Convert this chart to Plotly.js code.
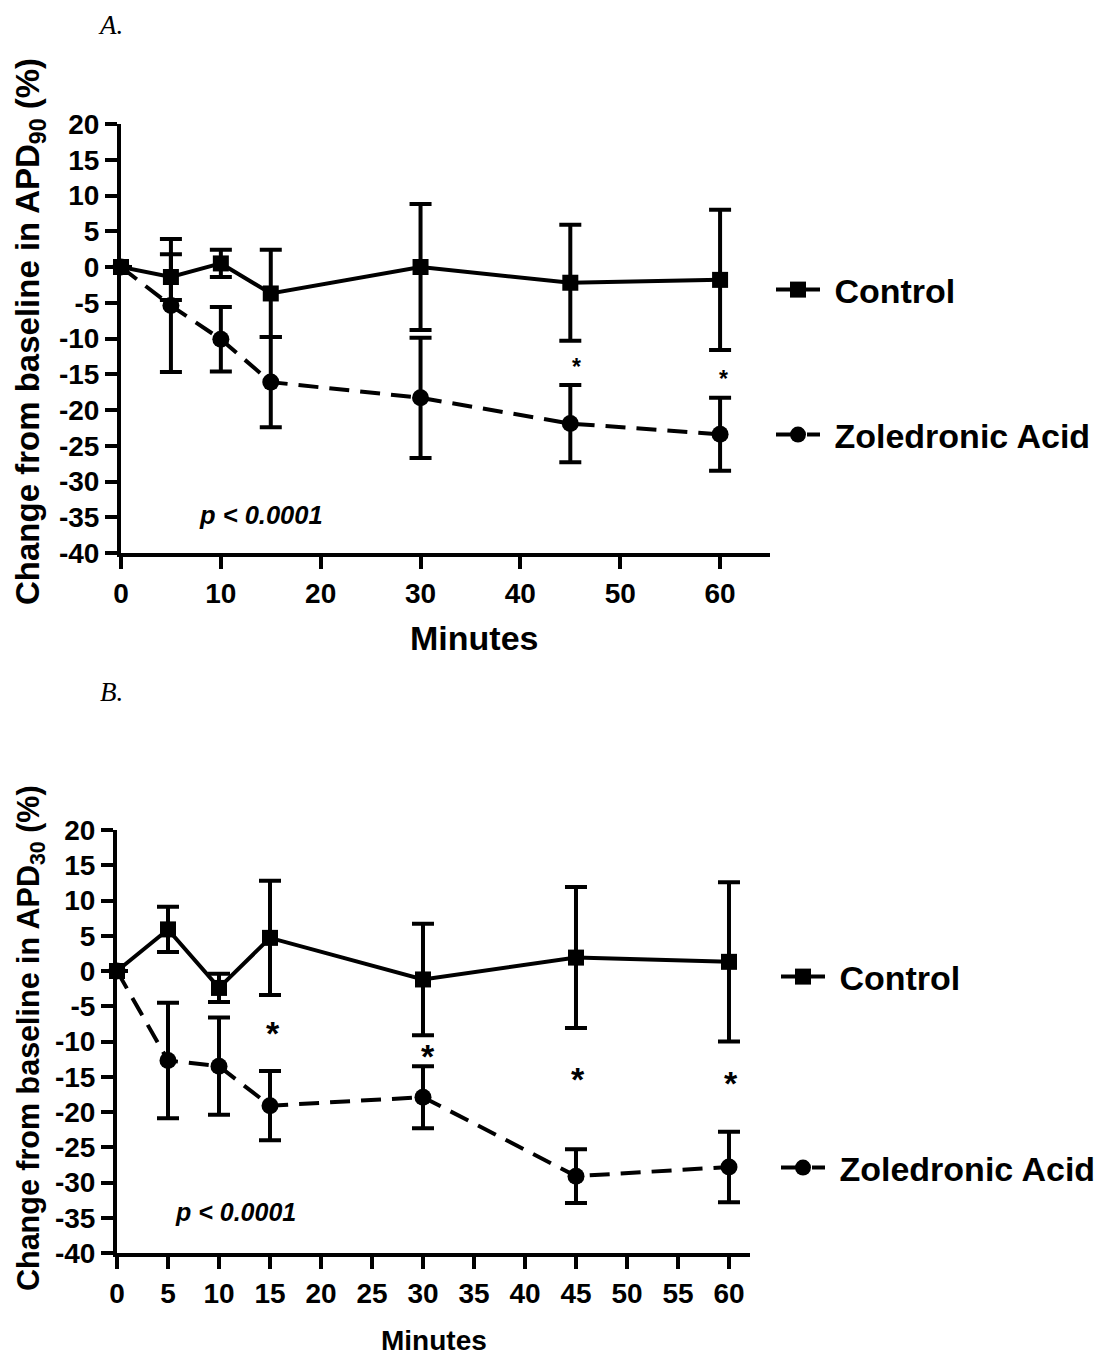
<!DOCTYPE html>
<html>
<head>
<meta charset="utf-8">
<script src="https://cdn.plot.ly/plotly-3.0.1.min.js"></script>
<style>html,body{margin:0;padding:0;background:#fff;}#chart{width:1112px;height:1357px;}</style>
</head>
<body>
<div id="chart"></div>
<script>
// ---- Data ----
const minutes = [0, 5, 10, 15, 30, 45, 60];

// Panel A: APD90
const aControl    = [0, -1.4, 0.5, -3.7, 0.0, -2.2, -1.8];
const aControlErr = [null, 3.2, 1.9, 6.1, 8.8, 8.1, 9.8];
const aZol        = [0, -5.4, -10.1, -16.1, -18.3, -21.9, -23.4];
const aZolErr     = [null, 9.3, 4.5, 6.3, 8.4, 5.4, 5.1];
const aSigX = [45.6, 60.3];
const aSigY = [-13.0, -14.7];

// Panel B: APD30
const bControl    = [0, 5.9, -2.4, 4.7, -1.2, 1.9, 1.3];
const bControlErr = [null, 3.2, 2.0, 8.1, 7.9, 10.0, 11.3];
const bZol        = [0, -12.7, -13.5, -19.1, -17.9, -29.1, -27.8];
const bZolErr     = [null, 8.2, 6.9, 4.9, 4.4, 3.8, 5.0];
const bSigX = [15.3, 30.5, 45.2, 60.2];
const bSigY = [-7.9, -11.2, -14.5, -15.0];

const aXTicks = [0, 10, 20, 30, 40, 50, 60];
const bXTicks = [0, 5, 10, 15, 20, 25, 30, 35, 40, 45, 50, 55, 60];
const yTicks = [20, 15, 10, 5, 0, -5, -10, -15, -20, -25, -30, -35, -40];

const names = ['Control', 'Zoledronic Acid'];
const pText = 'p < 0.0001';

// ---- Helpers ----
const W = 1112, H = 1357;
const px = v => v / W;
const py = v => 1 - v / H;
const BOLD = 'Liberation Sans, Arial, sans-serif';

function series(x, y, err, name, dash, symbol, xa, ya, leg) {
  return {
    x: x, y: y, type: 'scatter', mode: 'lines+markers', name: '\u00a0' + name,
    xaxis: xa, yaxis: ya, legend: leg, cliponaxis: false,
    line: {color: '#000', width: 4, dash: dash},
    marker: {color: '#000', size: symbol === 'square' ? 16 : 17, symbol: symbol},
    error_y: {type: 'data', array: err, visible: true, color: '#000', thickness: 4, width: 11}
  };
}

const traces = [
  series(minutes, aControl, aControlErr, names[0], 'solid', 'square', 'x', 'y', 'legend'),
  series(minutes, aZol, aZolErr, names[1], '20px,11px', 'circle', 'x', 'y', 'legend2'),
  series(minutes, bControl, bControlErr, names[0], 'solid', 'square', 'x2', 'y2', 'legend3'),
  series(minutes, bZol, bZolErr, names[1], '20px,11px', 'circle', 'x2', 'y2', 'legend4')
];

function xaxis(domain, range, ticks, anchor) {
  return {
    domain: domain, range: range, anchor: anchor,
    tickmode: 'array', tickvals: ticks, ticktext: ticks.map(String),
    showline: true, linecolor: '#000', linewidth: 4, mirror: false,
    ticks: 'outside', ticklen: 12, tickwidth: 4, tickcolor: '#000',
    showgrid: false, zeroline: false,
    tickfont: {family: BOLD, size: 28, color: '#000', weight: 'bold'}
  };
}
function yaxis(domain, anchor) {
  return {
    domain: domain, range: [-40, 20], anchor: anchor,
    tickmode: 'array', tickvals: yTicks, ticktext: yTicks.map(String),
    showline: true, linecolor: '#000', linewidth: 4,
    ticks: 'outside', ticklen: 12, tickwidth: 4, tickcolor: '#000',
    showgrid: false, zeroline: false,
    tickfont: {family: BOLD, size: 28, color: '#000', weight: 'bold'}
  };
}

function legendAt(xpx, ypx) {
  return {
    x: px(xpx), y: py(ypx), xanchor: 'left', yanchor: 'middle',
    bgcolor: 'rgba(0,0,0,0)', borderwidth: 0,
    font: {family: BOLD, size: 34, color: '#000', weight: 'bold'},
    itemwidth: 44
  };
}

const annotations = [
  {text: 'A.', xref: 'paper', yref: 'paper', x: px(96), y: py(25), xanchor: 'left', yanchor: 'middle', showarrow: false,
   font: {family: 'Liberation Serif, Times New Roman, serif', size: 27, color: '#000', style: 'italic'}},
  {text: 'B.', xref: 'paper', yref: 'paper', x: px(98), y: py(692), xanchor: 'left', yanchor: 'middle', showarrow: false,
   font: {family: 'Liberation Serif, Times New Roman, serif', size: 27, color: '#000', style: 'italic'}},
  {text: 'Change from baseline in APD<sub>90</sub> (%)', xref: 'paper', yref: 'paper', x: px(30), y: py(332),
   textangle: -90, showarrow: false, xanchor: 'center', yanchor: 'middle',
   font: {family: BOLD, size: 33, color: '#000', weight: 'bold'}},
  {text: 'Change from baseline in APD<sub>30</sub> (%)', xref: 'paper', yref: 'paper', x: px(30), y: py(1038),
   textangle: -90, showarrow: false, xanchor: 'center', yanchor: 'middle',
   font: {family: BOLD, size: 30.5, color: '#000', weight: 'bold'}},
  {text: 'Minutes', xref: 'paper', yref: 'paper', x: px(474), y: py(638), showarrow: false, xanchor: 'center', yanchor: 'middle',
   font: {family: BOLD, size: 34, color: '#000', weight: 'bold'}},
  {text: 'Minutes', xref: 'paper', yref: 'paper', x: px(434), y: py(1340), showarrow: false, xanchor: 'center', yanchor: 'middle',
   font: {family: BOLD, size: 28, color: '#000', weight: 'bold'}},
  {text: '<i>' + pText + '</i>', xref: 'x', yref: 'y', x: 14, y: -34.7, showarrow: false, xanchor: 'center', yanchor: 'middle',
   font: {family: BOLD, size: 25.5, color: '#000', weight: 'bold'}},
  {text: '<i>' + pText + '</i>', xref: 'x2', yref: 'y2', x: 11.6, y: -34.2, showarrow: false, xanchor: 'center', yanchor: 'middle',
   font: {family: BOLD, size: 25, color: '#000', weight: 'bold'}}
];
aSigX.forEach((x, i) => annotations.push({text: '*', xref: 'x', yref: 'y', x: x, y: aSigY[i], showarrow: false,
  xanchor: 'center', yanchor: 'middle', yshift: -7, font: {family: BOLD, size: 23, color: '#000', weight: 'bold'}}));
bSigX.forEach((x, i) => annotations.push({text: '*', xref: 'x2', yref: 'y2', x: x, y: bSigY[i], showarrow: false,
  xanchor: 'center', yanchor: 'middle', yshift: -6, font: {family: BOLD, size: 34, color: '#000', weight: 'bold'}}));

const layout = {
  width: W, height: H, margin: {l: 0, r: 0, t: 0, b: 0},
  paper_bgcolor: '#fff', plot_bgcolor: '#fff',
  showlegend: true,
  xaxis: xaxis([px(121), px(770)], [0, 65], aXTicks, 'y'),
  yaxis: yaxis([py(553), py(124)], 'x'),
  xaxis2: xaxis([px(117), px(750)], [0, 62.06], bXTicks, 'y2'),
  yaxis2: yaxis([py(1253), py(830)], 'x2'),
  legend: legendAt(771, 290),
  legend2: legendAt(771, 435),
  legend3: legendAt(776, 977),
  legend4: legendAt(776, 1168),
  annotations: annotations
};

Plotly.newPlot('chart', traces, layout, {displayModeBar: false, staticPlot: true});
</script>
</body>
</html>
